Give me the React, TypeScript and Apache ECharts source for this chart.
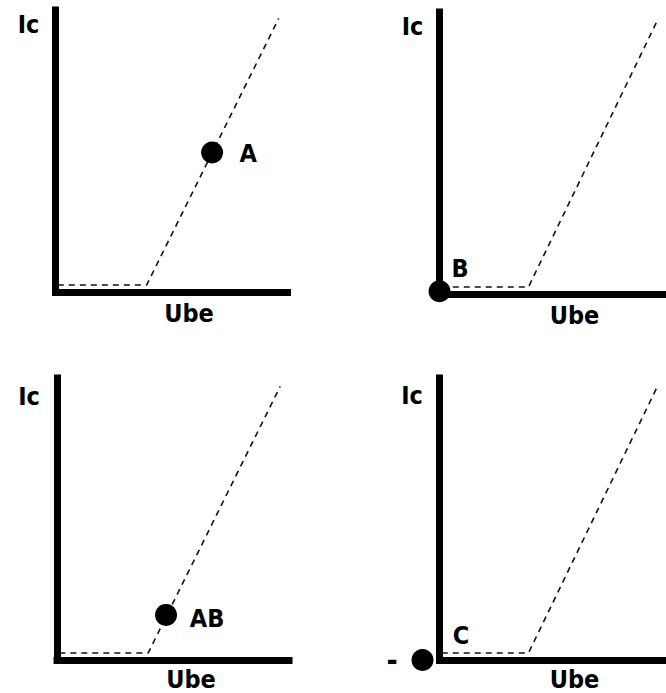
import React, { useEffect, useRef } from "react";
import * as echarts from "echarts";

// Transfer characteristic (Ic vs Ube) – same curve in every panel
const curveUbe = [1, 39.3, 96.2];
const curveIc = [2.5, 2.5, 97];

// Operating points, one per panel
const pointNames = ["A", "B", "AB", "C"];
const pointUbe = [67.5, 0, 47, -7.5];
const pointIc = [49.5, 1, 16, 0];

const xTitle = "Ube";
const yTitle = "Ic";
const negSign = "-";

const FONT = "DejaVu Sans Condensed";

export default function App() {
  const ref = useRef<HTMLDivElement>(null);

  useEffect(() => {
    if (!ref.current) return;
    const chart = echarts.init(ref.current, undefined, { renderer: "svg" });

    const grids = [
      { left: 55.5, top: 10, width: 232, height: 282 },
      { left: 439.5, top: 12, width: 232, height: 282 },
      { left: 57, top: 378, width: 232, height: 282 },
      { left: 439.5, top: 378, width: 232, height: 282 },
    ];
    const labelOffsets = [
      [36, 1],
      [20.5, -22.5],
      [41, 4],
      [38.5, -25],
    ];
    const yTitlePos = [
      [28.5, 24],
      [412.5, 26],
      [29, 396],
      [412, 395],
    ];
    const xTitlePos = [
      [189, 313],
      [574.5, 315],
      [191, 679],
      [574.5, 679],
    ];

    const axisLine = {
      show: true,
      lineStyle: { color: "#000", width: 7, cap: "square" },
    };
    const hidden = {
      axisTick: { show: false },
      axisLabel: { show: false },
      splitLine: { show: false },
    };

    const curve = curveUbe.map((u, i) => [u, curveIc[i]]);
    const textStyle = {
      fontFamily: FONT,
      fontWeight: "bold",
      fontSize: 25,
      color: "#000",
    };

    const series: any[] = [];
    grids.forEach((_, i) => {
      series.push({
        type: "line",
        xAxisIndex: i,
        yAxisIndex: i,
        data: curve,
        showSymbol: false,
        symbol: "none",
        silent: true,
        lineStyle: { color: "#111", width: 1.6, type: [6, 5] },
        z: 2,
      });
      const pointData: any[] = [
        {
          value: [pointUbe[i], pointIc[i]],
          label: {
            show: true,
            formatter: pointNames[i],
            position: "inside",
            offset: labelOffsets[i],
            ...textStyle,
          },
        },
      ];
      if (pointUbe[i] < 0) {
        pointData.push({
          value: [pointUbe[i], pointIc[i]],
          symbolSize: 0,
          label: {
            show: true,
            formatter: negSign,
            position: "inside",
            offset: [-30.5, 0],
            ...textStyle,
            fontSize: 30,
          },
        });
      }
      series.push({
        type: "scatter",
        xAxisIndex: i,
        yAxisIndex: i,
        data: pointData,
        symbol: "circle",
        symbolSize: 22,
        clip: false,
        silent: true,
        itemStyle: { color: "#000", opacity: 1 },
        z: 3,
      });
    });

    const graphic: any[] = [];
    grids.forEach((_, i) => {
      graphic.push({
        type: "text",
        x: yTitlePos[i][0],
        y: yTitlePos[i][1],
        style: {
          text: yTitle,
          align: "center",
          verticalAlign: "middle",
          ...textStyle,
          fill: "#000",
        },
      });
      graphic.push({
        type: "text",
        x: xTitlePos[i][0],
        y: xTitlePos[i][1],
        style: {
          text: xTitle,
          align: "center",
          verticalAlign: "middle",
          ...textStyle,
          fill: "#000",
        },
      });
    });

    chart.setOption({
      animation: false,
      backgroundColor: "#fff",
      grid: grids,
      xAxis: grids.map((_, i) => ({
        type: "value",
        gridIndex: i,
        min: 0,
        max: 100,
        axisLine,
        ...hidden,
      })),
      yAxis: grids.map((_, i) => ({
        type: "value",
        gridIndex: i,
        min: 0,
        max: 100,
        axisLine,
        ...hidden,
      })),
      series,
      graphic,
    });

    return () => chart.dispose();
  }, []);

  return (
    <div
      ref={ref}
      style={{ position: "absolute", left: 0, top: 0, width: 666, height: 693 }}
    />
  );
}
